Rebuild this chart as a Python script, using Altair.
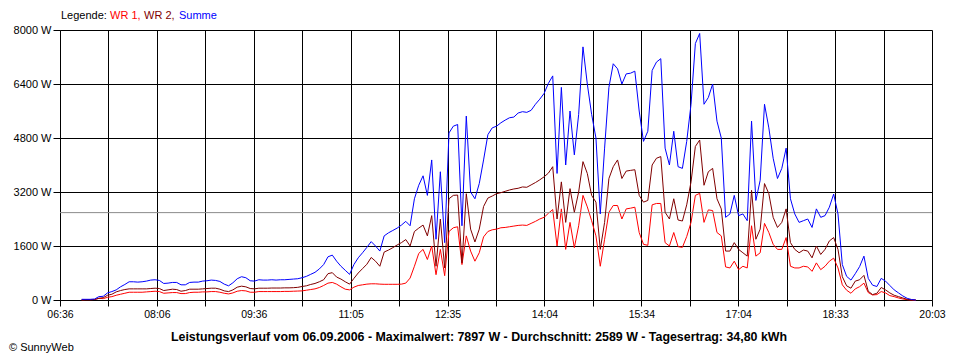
import altair as alt
import pandas as pd

# ---- data ----
START_MIN = 416          # 06:56, minutes since midnight
STEP_MIN = 4             # sample spacing in minutes

SUMME = [20, 20, 20, 30, 100, 110, 210, 250, 300, 390,
         460, 540, 540, 530, 540, 560, 590, 600, 580, 490,
         500, 520, 520, 450, 450, 520, 530, 530, 560, 570,
         590, 580, 550, 470, 420, 510, 630, 690, 660, 570,
         560, 600, 590, 590, 600, 590, 600, 600, 610, 620,
         630, 660, 700, 760, 820, 920, 1050, 1280, 1330, 1150,
         1000, 880, 760, 1050, 1250, 1400, 1560, 1730, 1600, 1450,
         1900, 1990, 2060, 2130, 2220, 2330, 2200, 3000, 3400, 3680,
         3100, 4150, 1800, 3800, 1700, 4950, 5150, 5200, 2200, 5450,
         3200, 3000, 3450, 4150, 4900, 5100, 5150, 5250, 5330, 5400,
         5420, 5540, 5580, 5560, 5620, 5800, 5950, 6120, 6420, 6640,
         3750, 6300, 4000, 5600, 4300, 5500, 7500, 6400, 5500, 4800,
         2550, 4500, 6300, 7000, 6850, 6400, 6700, 6720, 6780, 5600,
         4700, 5000, 6800, 7050, 7150, 4500, 4000, 5000, 3950, 3900,
         4700, 5800, 7600, 7897, 5800, 6000, 6400, 5300, 4800, 2450,
         2550, 3100, 2500, 2550, 2350, 5300, 2950, 3550, 5800, 5100,
         4200, 3600, 3900, 4500, 3000, 2550, 2300, 2350, 2400, 2150,
         2700, 2450, 2500, 2750, 3140, 2550, 1050, 700, 590, 780,
         990, 1300, 640, 440, 400, 640, 560, 430, 300, 210,
         120, 50, 15, 0]

WR2 = [5, 10, 10, 15, 50, 70, 140, 170, 240, 280,
       310, 330, 330, 330, 330, 330, 340, 350, 340, 280,
       300, 320, 310, 260, 280, 320, 320, 320, 330, 340,
       350, 350, 320, 270, 250, 300, 380, 410, 390, 340,
       330, 350, 350, 350, 355, 355, 355, 360, 360, 365,
       375, 400, 420, 460, 490, 540, 600, 780, 810, 680,
       620, 540, 470, 640, 800, 930, 1060, 1260, 1150, 1000,
       1420, 1480, 1550, 1630, 1700, 1790, 1600, 2030, 2130, 2220,
       1900, 2500, 1000, 2400, 950, 3000, 3100, 3110, 1100, 3150,
       2100, 1720, 2100, 2770, 3020, 3080, 3150, 3180, 3220, 3260,
       3290, 3310, 3350, 3340, 3410, 3480, 3560, 3650, 3760, 3950,
       2400, 3500, 2300, 3300, 2600, 3200, 4100, 3750, 3100, 2900,
       1500, 2300, 3600, 3950, 4150, 3600, 3820, 3840, 3860, 3100,
       2900, 2950, 4000, 4200, 4250, 2600, 2400, 3000, 2370, 2340,
       2820, 3500, 4550, 4740, 3400, 3800, 3900, 3000, 2700, 1450,
       1450, 1700, 1500, 1400, 1300, 3250, 1800, 2100, 3450, 3150,
       2450, 2150, 2300, 2700, 1700, 1500, 1400, 1480, 1450, 1250,
       1600, 1350, 1500, 1750, 1850, 1500, 690, 420, 350, 560,
       600, 730, 260, 160, 200, 370, 300, 210, 140, 100,
       60, 20, 5, 0]

WR1 = [5, 10, 10, 15, 50, 40, 80, 100, 140, 170,
       200, 230, 230, 230, 230, 240, 250, 260, 250, 200,
       210, 220, 220, 190, 190, 220, 230, 230, 240, 240,
       250, 250, 230, 200, 180, 210, 260, 280, 270, 230,
       230, 250, 250, 250, 250, 250, 250, 255, 255, 260,
       265, 270, 290, 310, 330, 370, 430, 500, 520, 470,
       390, 320, 300, 380, 430, 450, 470, 480, 480, 470,
       465, 465, 465, 465, 470, 500, 650, 1000, 1380, 1500,
       1200, 1600, 750, 1500, 720, 2030, 2140, 2170, 1050, 1900,
       1450, 1150, 1400, 1870, 2030, 2080, 2100, 2140, 2150, 2170,
       2190, 2210, 2220, 2210, 2270, 2330, 2400, 2450, 2570, 2680,
       1600, 2700, 1500, 2300, 1550, 2200, 3100, 2760, 2350, 1900,
       1000, 1800, 2600, 2800, 2800, 2400, 2700, 2720, 2750, 2000,
       1650, 1620, 2820, 2860, 2860, 1700, 1600, 2000, 1580, 1560,
       1880, 2300, 3100, 3160, 2300, 2670, 2650, 2000, 1900, 980,
       950, 1150, 900, 1000, 950, 2200, 1300, 1400, 2270, 2000,
       1650, 1500, 1500, 1850, 1000, 950, 950, 1000, 980, 850,
       1100, 900, 1000, 1150, 1240, 950, 450, 290, 200, 330,
       395, 500, 220, 150, 160, 250, 210, 130, 100, 60,
       30, 10, 0, 0]

AVERAGE_W = 2589
X_DOMAIN = [396, 1203]          # 06:36 .. 20:03
N_GRID = 18
X_LABELS = ["06:36", "08:06", "09:36", "11:05", "12:35",
            "14:04", "15:34", "17:04", "18:33", "20:03"]
Y_TICKS = [0, 1600, 3200, 4800, 6400, 8000]
SERIES = ["WR 1", "WR 2", "Summe"]
COLORS = ["#ff0000", "#800000", "#0000ff"]
CAPTION = ("Leistungsverlauf vom 06.09.2006 - Maximalwert: 7897 W - "
           "Durchschnitt: 2589 W - Tagesertrag: 34,80 kWh")
FONT = "Liberation Sans"

# ---- table ----
rows = []
for i, (a, b, s) in enumerate(zip(WR1, WR2, SUMME)):
    t = START_MIN + STEP_MIN * i
    rows.append({"t": t, "w": a, "serie": "WR 1"})
    rows.append({"t": t, "w": b, "serie": "WR 2"})
    rows.append({"t": t, "w": s, "serie": "Summe"})
df = pd.DataFrame(rows)

grid_step = (X_DOMAIN[1] - X_DOMAIN[0]) / N_GRID
grid_vals = [X_DOMAIN[0] + i * grid_step for i in range(N_GRID + 1)]
label_arr = [X_LABELS[i // 2] if i % 2 == 0 else "" for i in range(N_GRID + 1)]
label_expr = ("[" + ",".join("'%s'" % l for l in label_arr) + "]"
              + "[round((datum.value-%d)/%f)]" % (X_DOMAIN[0], grid_step))

x_enc = alt.X("t:Q",
              scale=alt.Scale(domain=X_DOMAIN, nice=False, zero=False),
              axis=alt.Axis(values=grid_vals, labelExpr=label_expr, grid=True,
                            gridColor="black", gridOpacity=1, gridWidth=1,
                            tickColor="black", tickSize=6, domainColor="black",
                            labelFont=FONT, labelFontSize=10.5, labelColor="black",
                            labelPadding=3, labelFlush=False, labelOverlap=False,
                            title=None))
y_enc = alt.Y("w:Q",
              scale=alt.Scale(domain=[0, 8000], nice=False),
              axis=alt.Axis(values=Y_TICKS, labelExpr="datum.value + ' W'",
                            grid=True, gridColor="black", gridOpacity=1,
                            gridWidth=1, tickColor="black", tickSize=7,
                            domainColor="black", labelFont=FONT,
                            labelFontSize=11, labelColor="black",
                            labelPadding=2, title=None))

base = alt.Chart(df)
layers = []
avg = alt.Chart(pd.DataFrame({"avg": [AVERAGE_W]})).mark_rule(
    color="#8c8c8c", strokeWidth=1).encode(y=alt.Y("avg:Q"))

for name, col in zip(SERIES, COLORS):
    layers.append(
        base.transform_filter(alt.datum.serie == name)
        .mark_line(color=col, strokeWidth=1, interpolate="linear")
        .encode(x=x_enc, y=y_enc)
    )

one = pd.DataFrame({"d": [0]})


def txt(text, x, y, color="black", bold=False, align="left", size=11):
    return alt.Chart(one).mark_text(
        text=text, align=align, baseline="middle", font=FONT, fontSize=size,
        fontWeight="bold" if bold else "normal", color=color
    ).encode(x=alt.value(x), y=alt.value(y))


texts = [
    txt("Legende:", 1, -14),
    txt("WR 1,", 50, -14, COLORS[0]),
    txt("WR 2,", 84, -14, COLORS[1]),
    txt("Summe", 119, -14, COLORS[2]),
    txt(CAPTION, 419, 307, bold=True, align="center", size=12.4),
    txt("\u00a9 SunnyWeb", -51, 318),
]

chart = alt.layer(layers[0], avg, *layers[1:], *texts).properties(
    width=872, height=270,
    autosize=alt.AutoSizeParams(type="none"),
    padding={"left": 52, "top": 22, "right": 20, "bottom": 60},
    background="white",
).configure_view(stroke=None)

chart.save("out.html", embed_options={"renderer": "svg", "actions": False})
